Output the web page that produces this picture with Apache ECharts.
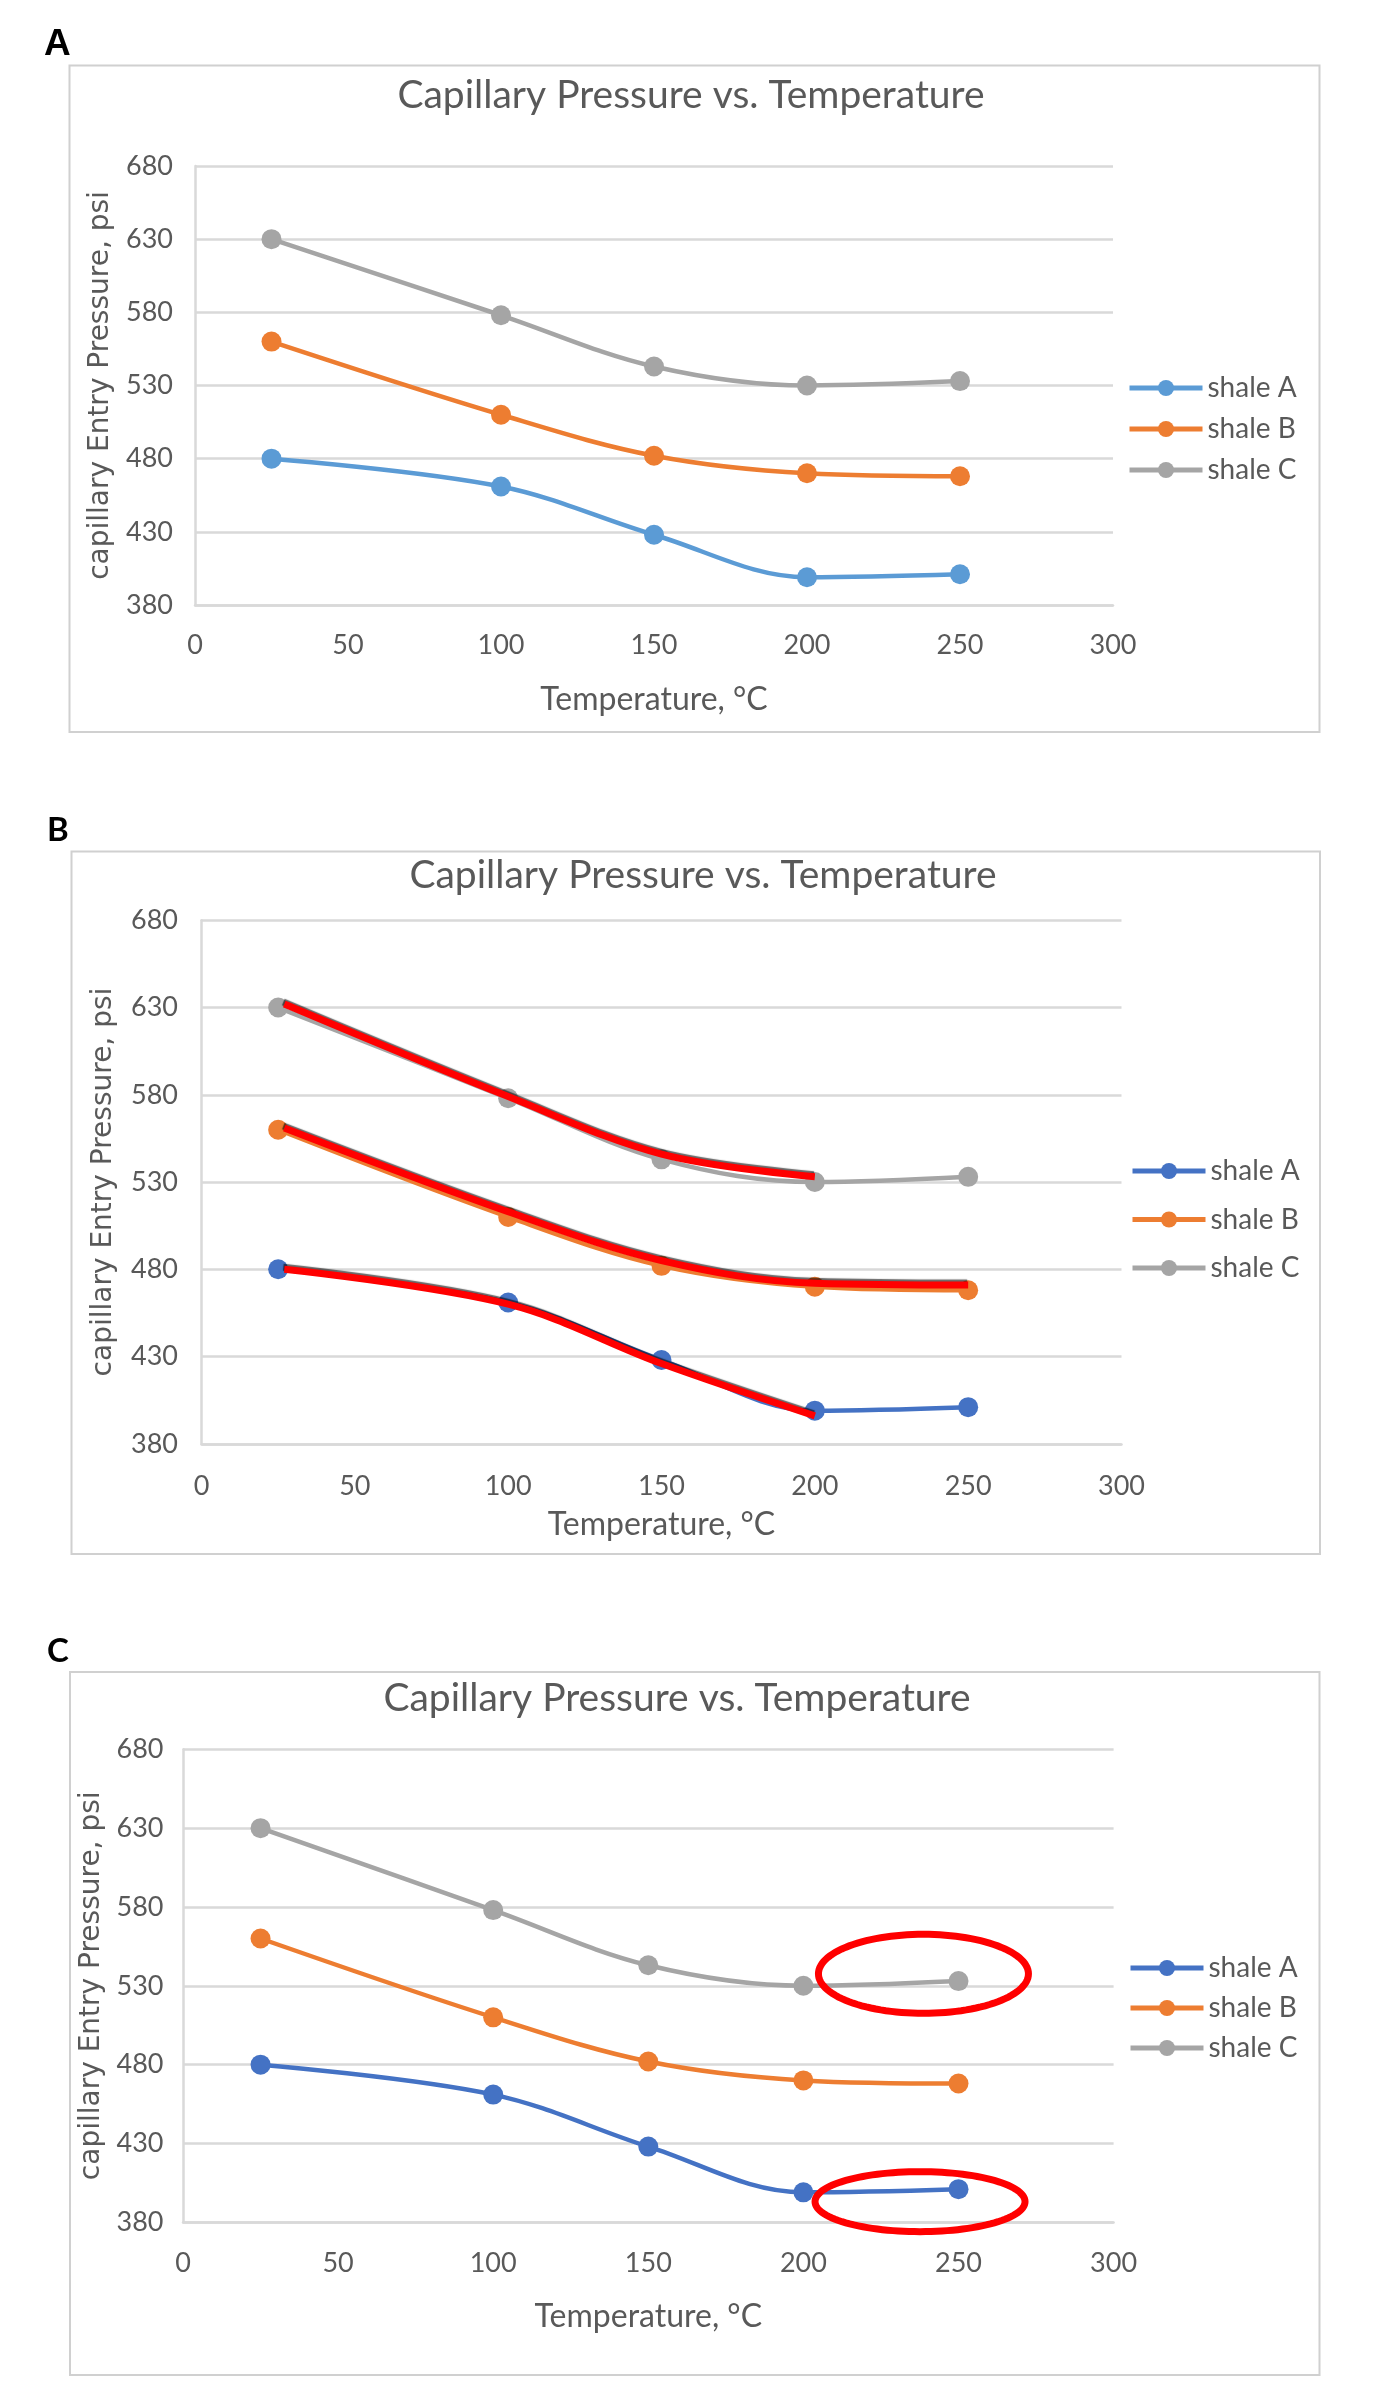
<!DOCTYPE html>
<html><head><meta charset="utf-8">
<script src="https://cdn.jsdelivr.net/npm/echarts@6/dist/echarts.min.js"></script>
<style>
html,body{margin:0;padding:0;background:#fff;}
#wrap{position:relative;width:1398px;height:2394px;}
.panel{position:absolute;left:0;width:1398px;}
</style></head><body>
<div id="wrap">
<div id="pA" class="panel" style="top:0;height:790px"></div>
<div id="pB" class="panel" style="top:790px;height:820px"></div>
<div id="pC" class="panel" style="top:1610px;height:784px"></div>
</div>
<script>
// ---------------- data ----------------
const temperatures = [25, 100, 150, 200, 250];
const shaleA = [480, 461, 428, 399, 401];
const shaleB = [560, 510, 482, 470, 468];
const shaleC = [630, 578, 543, 530, 533];
const seriesNames = ['shale A', 'shale B', 'shale C'];
const xMin = 0, xMax = 300, xStep = 50;
const yMin = 380, yMax = 680, yStep = 50;
const chartTitle = 'Capillary Pressure vs. Temperature';
const xAxisTitle = 'Temperature, °C';
const yAxisTitle = 'capillary Entry Pressure, psi';
const panelLabels = ['A', 'B', 'C'];
// panel B: red trend overlays
const redTempsA = [27, 100, 150, 200];
const redA = [480, 460, 426, 396];
const redTempsB = [27, 100, 150, 200, 250];
const redB = [561, 513, 485, 472, 471];
const redTempsC = [27, 100, 150, 200];
const redC = [632, 579, 546, 533];
// panel C: highlight ellipse centres (data coordinates)
const ellipseTemps = [238.7, 237.6];
const ellipseValues = [537.6, 393.1];

// ---------------- styling ----------------
const TXT = '#595959';
const GRID = '#D9D9D9';
const FONT = 'Lato';
const ELLIPSE_R = [[105, 39.5], [105, 30]]; // px radii

function zip(xs, ys) { return xs.map((x, i) => [x, ys[i]]); }

const panels = [
  { id: 'pA', label: panelLabels[0], labelFont: 'bold 37px "Liberation Sans"', labelPos: [44, 45],
    border: [69.5, 65.5, 1250, 666.5], titlePos: [691, 95],
    grid: { left: 195, top: 166, width: 918, height: 439 },
    yLabelMargin: 22, xLabelMargin: 27, yNameGap: 77, xNameGap: 79,
    legend: { left: 1127, top: 374, gap: 13 },
    colors: ['#5B9BD5', '#ED7D31', '#A5A5A5'], red: false, ellipses: false },
  { id: 'pB', label: panelLabels[1], labelFont: 'bold 33px Lato', labelPos: [47, 40],
    border: [71.5, 61.5, 1248.5, 702.5], titlePos: [703, 85],
    grid: { left: 201.5, top: 130.3, width: 920, height: 523.5 },
    yLabelMargin: 23.5, xLabelMargin: 29, yNameGap: 84, xNameGap: 65,
    legend: { left: 1130, top: 367, gap: 20.5 },
    colors: ['#4472C4', '#ED7D31', '#A5A5A5'], red: true, ellipses: false },
  { id: 'pC', label: panelLabels[2], labelFont: 'bold 33px Lato', labelPos: [47, 41.5],
    border: [70, 62, 1249.5, 703], titlePos: [677, 88],
    grid: { left: 183, top: 139.3, width: 930.6, height: 473 },
    yLabelMargin: 19.5, xLabelMargin: 27, yNameGap: 77, xNameGap: 78,
    legend: { left: 1128, top: 344, gap: 12 },
    colors: ['#4472C4', '#ED7D31', '#A5A5A5'], red: false, ellipses: true }
];

function build(p) {
  const values = [shaleA, shaleB, shaleC];
  const series = values.map((v, i) => ({
    name: seriesNames[i], type: 'line', data: zip(temperatures, v),
    smooth: 0.35, symbol: 'circle', symbolSize: 20, showSymbol: true,
    lineStyle: { color: p.colors[i], width: 4.5 },
    itemStyle: { color: p.colors[i] }, z: 3
  }));
  if (p.red) {
    [[redTempsA, redA], [redTempsB, redB], [redTempsC, redC]].forEach((r, i) => {
      series.push({
        name: 'trend ' + i, type: 'line', data: zip(r[0], r[1]), smooth: 0.35,
        showSymbol: false, symbol: 'none', z: 6,
        lineStyle: { color: '#FF0000', width: 7, shadowColor: 'rgba(0,0,0,0.6)', shadowBlur: 1, shadowOffsetX: -1, shadowOffsetY: -2 }
      });
    });
  }
  if (p.ellipses) {
    series.push({
      type: 'custom', coordinateSystem: 'cartesian2d', clip: false, silent: true, z: 8,
      data: zip(ellipseTemps, ellipseValues),
      renderItem: function (params, api) {
        const c = api.coord([api.value(0), api.value(1)]);
        const r = ELLIPSE_R[params.dataIndex];
        const pts = [];
        for (let k = 0; k < 120; k++) {
          const a = k / 120 * Math.PI * 2;
          pts.push([c[0] + r[0] * Math.cos(a), c[1] + r[1] * Math.sin(a)]);
        }
        return { type: 'polygon', shape: { points: pts },
          style: { fill: 'rgba(0,0,0,0)', stroke: '#FF0000', lineWidth: 7 } };
      }
    });
  }
  return {
    animation: false,
    backgroundColor: '#fff',
    graphic: [
      { type: 'rect', shape: { x: p.border[0], y: p.border[1], width: p.border[2], height: p.border[3] },
        style: { fill: 'rgba(0,0,0,0)', stroke: '#D0D0D0', lineWidth: 2 }, z: -1 },
      { type: 'text', x: p.labelPos[0], y: p.labelPos[1],
        style: { text: p.label, font: p.labelFont, fill: '#000', align: 'left', verticalAlign: 'middle' } },
      { type: 'text', x: p.titlePos[0], y: p.titlePos[1],
        style: { text: chartTitle, font: 'normal 39px Lato', fill: TXT, align: 'center', verticalAlign: 'middle' } }
    ],
    legend: {
      orient: 'vertical', left: p.legend.left, top: p.legend.top, itemGap: p.legend.gap, padding: 0,
      itemWidth: 73, itemHeight: 20,
      lineStyle: { width: 5 },
      data: seriesNames,
      textStyle: { fontFamily: FONT, fontSize: 28, lineHeight: 28, color: TXT }
    },
    grid: p.grid,
    xAxis: {
      type: 'value', min: xMin, max: xMax, interval: xStep,
      name: xAxisTitle, nameLocation: 'middle', nameGap: p.xNameGap,
      nameTextStyle: { fontFamily: FONT, fontSize: 32, color: TXT },
      axisLine: { show: true, lineStyle: { color: GRID, width: 2.5 } },
      axisTick: { show: false }, splitLine: { show: false },
      axisLabel: { fontFamily: FONT, fontSize: 27, color: TXT, margin: p.xLabelMargin }
    },
    yAxis: {
      type: 'value', min: yMin, max: yMax, interval: yStep,
      name: yAxisTitle, nameLocation: 'middle', nameGap: p.yNameGap,
      nameTextStyle: { fontFamily: 'DejaVu Sans', fontSize: 28, color: TXT },
      axisLine: { show: true, lineStyle: { color: GRID, width: 2.5 } },
      axisTick: { show: false },
      splitLine: { show: true, lineStyle: { color: GRID, width: 2.5 } },
      axisLabel: { fontFamily: FONT, fontSize: 27, color: TXT, margin: p.yLabelMargin }
    },
    series: series
  };
}

panels.forEach(p => {
  const chart = echarts.init(document.getElementById(p.id), null, { renderer: 'canvas' });
  chart.setOption(build(p));
});
</script>
</body></html>
